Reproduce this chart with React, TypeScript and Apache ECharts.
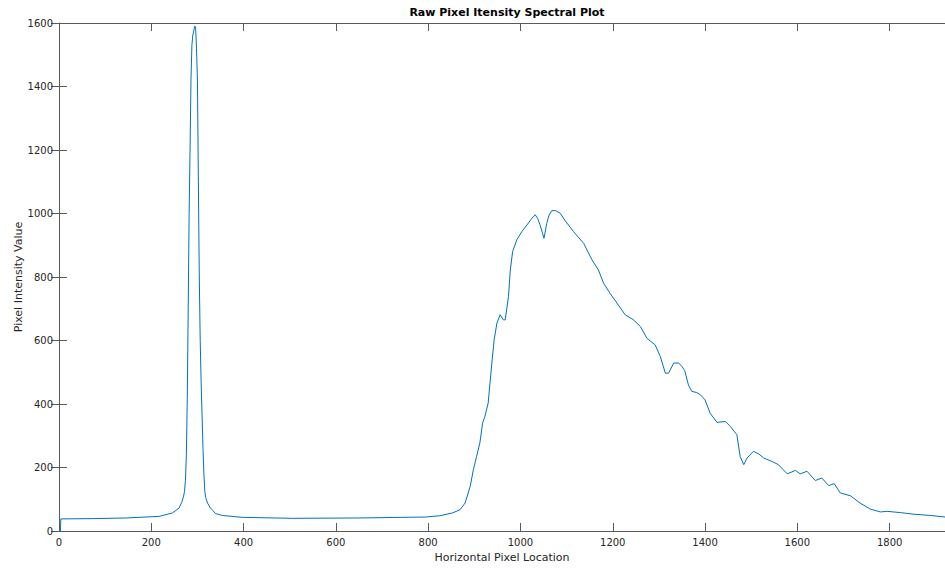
import React, { useEffect, useRef } from "react";
import * as echarts from "echarts";

const pixelLocation = [
  0, 3, 4, 72, 145, 217, 246, 260, 266, 270, 272, 274, 276, 278, 280, 282, 284, 286, 288, 290,
  292, 294, 296, 298, 300, 302, 304, 306, 308, 310, 312, 314, 316, 318, 322, 328, 332, 339, 354, 397,
  506, 650, 795, 825, 853, 869, 880, 891, 898, 905, 912, 918, 923, 930, 934, 938, 943, 949, 956, 963,
  967, 974, 978, 983, 992, 1003, 1014, 1025, 1032, 1037, 1043, 1051, 1057, 1062, 1068, 1076, 1086, 1097, 1115, 1137,
  1155, 1169, 1180, 1194, 1209, 1227, 1245, 1260, 1274, 1292, 1303, 1314, 1321, 1332, 1343, 1350, 1356, 1364, 1371, 1382,
  1390, 1400, 1411, 1426, 1444, 1455, 1469, 1476, 1484, 1491, 1505, 1516, 1527, 1545, 1559, 1578, 1596, 1606, 1621, 1639,
  1653, 1668, 1680, 1693, 1715, 1736, 1758, 1780, 1794, 1823, 1852, 1888, 1920,
];

const intensity = [
  0, 0, 38, 39, 41, 46, 57, 72, 90, 110, 125, 160, 240, 420, 700, 1000, 1200, 1420, 1530, 1562,
  1575, 1590, 1588, 1520, 1420, 1100, 800, 600, 470, 366, 260, 180, 125, 105, 88, 72, 67, 55, 49, 43,
  40, 41, 44, 48, 57, 67, 88, 140, 193, 235, 277, 340, 361, 403, 466, 529, 602, 655, 681, 665,
  665, 738, 822, 880, 917, 943, 964, 985, 996, 985, 962, 922, 969, 995, 1009, 1009, 1001, 977, 943, 906,
  854, 822, 781, 749, 718, 681, 665, 644, 607, 586, 550, 497, 497, 529, 529, 518, 505, 460, 440, 436,
  429, 413, 371, 342, 345, 329, 303, 235, 209, 230, 251, 243, 230, 219, 209, 180, 191, 180, 188, 159,
  167, 143, 149, 120, 111, 88, 69, 60, 62, 58, 53, 49, 44,
];

const xTicks = [0, 200, 400, 600, 800, 1000, 1200, 1400, 1600, 1800];
const yTicks = [0, 200, 400, 600, 800, 1000, 1200, 1400, 1600];

const titleText = "Raw Pixel Itensity Spectral Plot";
const xName = "Horizontal Pixel Location";
const yName = "Pixel Intensity Value";

export default function App() {
  const ref = useRef<HTMLDivElement>(null);
  useEffect(() => {
    if (!ref.current) return;
    const chart = echarts.init(ref.current, null, { renderer: "svg" });
    const font = "DejaVu Sans";
    const axisColor = "#5a5a5a";
    const textColor = "#262626";
    const data = pixelLocation.map((x, i) => [x, intensity[i]]);
    const plain = (v: number) => String(v);
    chart.setOption({
      animation: false,
      backgroundColor: "#ffffff",
      textStyle: { fontFamily: font },
      title: {
        text: titleText,
        left: 502,
        textAlign: "center",
        top: 2,
        textStyle: { fontFamily: font, fontSize: 11, fontWeight: "bold", color: "#000" },
      },
      grid: { left: 59, right: 0, top: 23, bottom: 40, containLabel: false, outerBoundsMode: "none" },
      xAxis: [
        {
          type: "value",
          min: 0,
          max: 1920,
          interval: 200,
          name: xName,
          nameLocation: "middle",
          nameGap: 21,
          nameMoveOverlap: false,
          nameTextStyle: { fontFamily: font, fontSize: 11, color: textColor, verticalAlign: "top" },
          axisLine: { show: true, onZero: false, lineStyle: { color: axisColor, width: 1 } },
          axisTick: { show: true, inside: true, length: 8, customValues: xTicks, lineStyle: { color: axisColor } },
          axisLabel: { show: true, customValues: xTicks, formatter: plain, margin: 6, fontFamily: font, fontSize: 10, color: textColor },
          splitLine: { show: false },
        },
        {
          type: "value",
          position: "top",
          min: 0,
          max: 1920,
          interval: 200,
          axisLine: { show: true, onZero: false, lineStyle: { color: axisColor, width: 1 } },
          axisTick: { show: true, inside: true, length: 8, customValues: xTicks, lineStyle: { color: axisColor } },
          axisLabel: { show: false },
          splitLine: { show: false },
        },
      ],
      yAxis: [
        {
          type: "value",
          min: 0,
          max: 1600,
          interval: 200,
          name: yName,
          nameLocation: "middle",
          nameGap: 35,
          nameMoveOverlap: false,
          nameRotate: 90,
          nameTextStyle: { fontFamily: font, fontSize: 11, color: textColor },
          axisLine: { show: true, onZero: false, lineStyle: { color: axisColor, width: 1 } },
          axisTick: { show: true, inside: true, length: 8, customValues: yTicks, lineStyle: { color: axisColor } },
          axisLabel: { show: true, customValues: yTicks, formatter: plain, margin: 6, fontFamily: font, fontSize: 10, color: textColor },
          splitLine: { show: false },
        },
        {
          type: "value",
          position: "right",
          min: 0,
          max: 1600,
          interval: 200,
          axisLine: { show: false },
          axisTick: { show: true, inside: true, length: 8, customValues: yTicks, lineStyle: { color: axisColor } },
          axisLabel: { show: false },
          splitLine: { show: false },
        },
      ],
      series: [
        {
          type: "line",
          xAxisIndex: 0,
          yAxisIndex: 0,
          data,
          showSymbol: false,
          symbol: "none",
          lineStyle: { color: "#0072BD", width: 1 },
          itemStyle: { color: "#0072BD" },
        },
      ],
    });
    return () => chart.dispose();
  }, []);
  return (
    <div
      ref={ref}
      style={{ position: "fixed", left: 0, top: 0, width: 945, height: 571, background: "#fff" }}
    />
  );
}
